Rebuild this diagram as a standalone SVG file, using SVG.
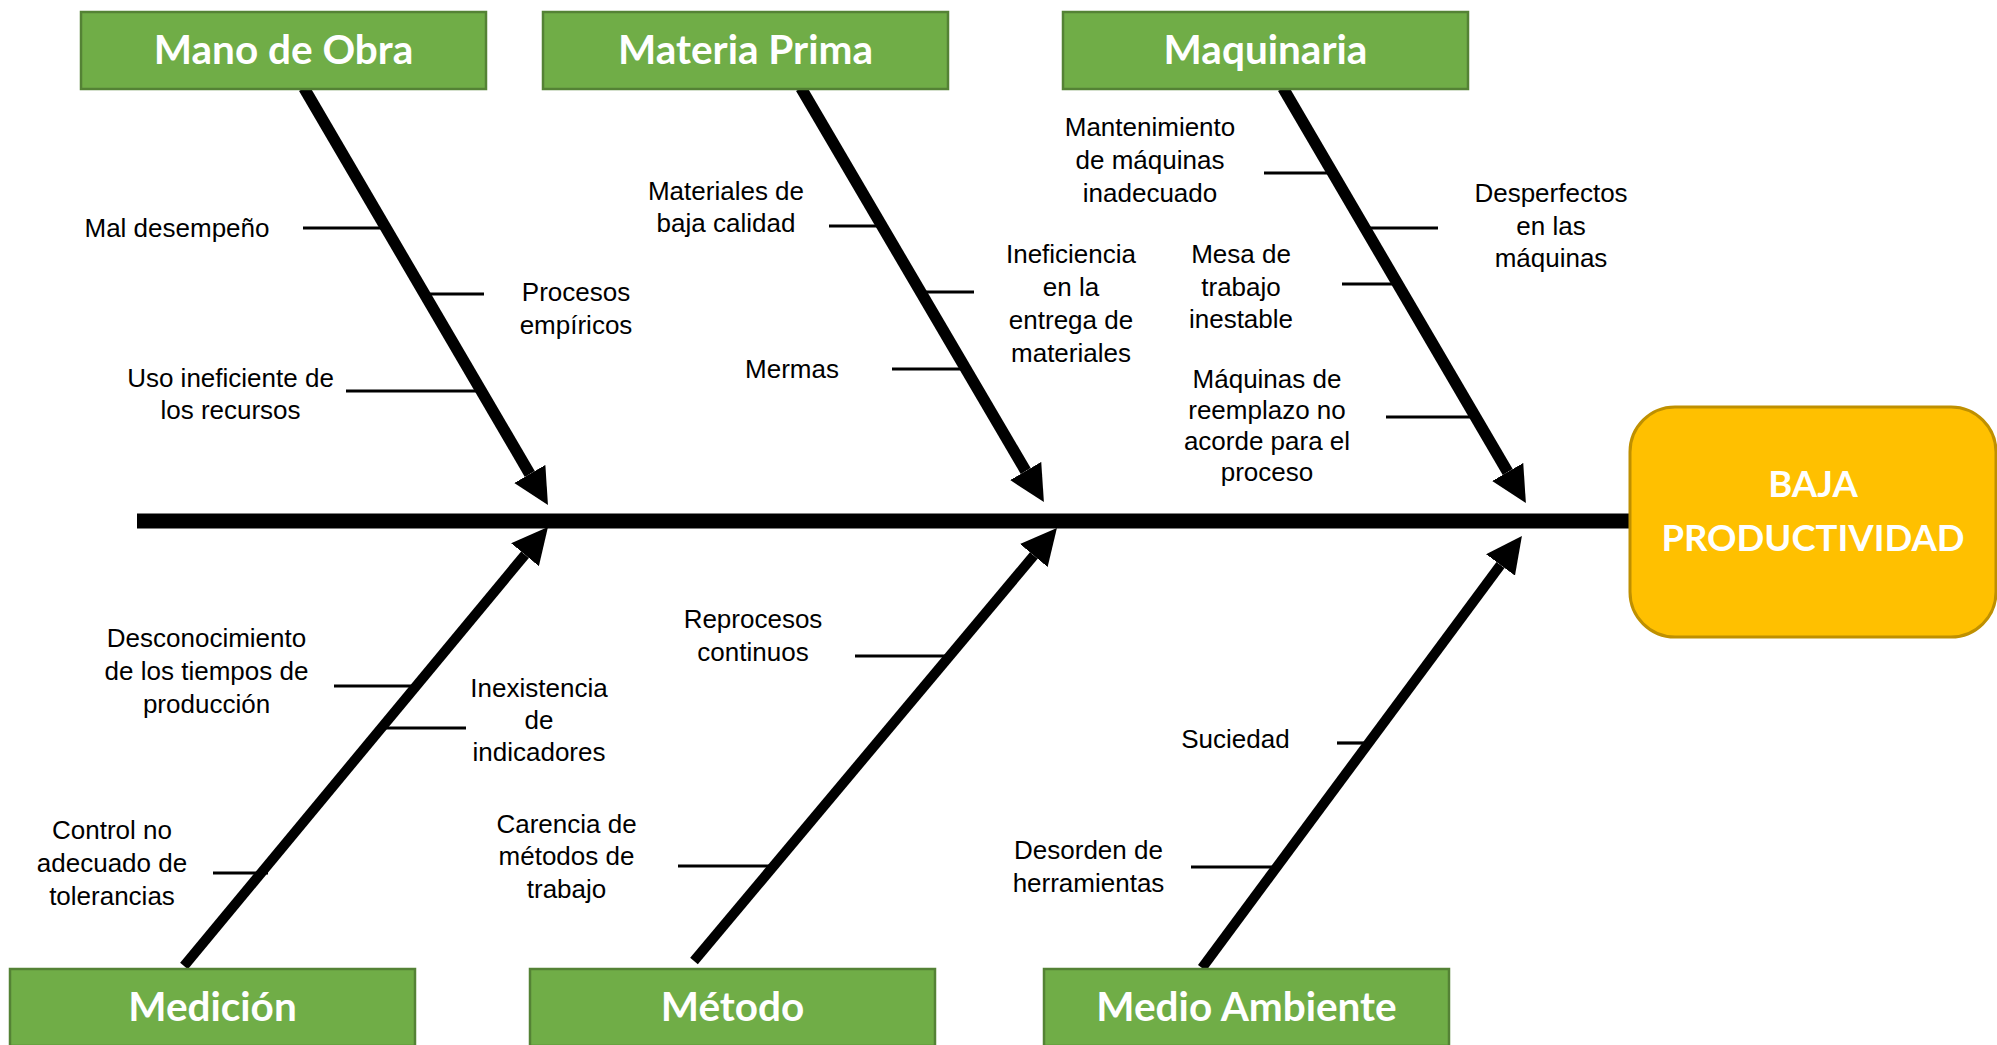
<svg xmlns="http://www.w3.org/2000/svg" width="1997" height="1045" viewBox="0 0 1997 1045">
<style>
.cat{fill:#70AD47;stroke:#548235;stroke-width:2.5}
.cat-t{font-family:Lato,"Open Sans",sans-serif;font-weight:bold;font-size:40.5px;fill:#fff;text-anchor:middle}
.eff-t{font-family:Lato,"Open Sans",sans-serif;font-weight:bold;font-size:36.5px;fill:#fff;text-anchor:middle}
.eff{fill:#FFC000;stroke:#BF9000;stroke-width:3}
.lbl{font-family:"Liberation Sans",Arial,sans-serif;font-size:26px;fill:#000;text-anchor:middle}
.bone{stroke:#000;stroke-width:11.5;fill:none;marker-end:url(#ah)}
.bone-b{stroke:#000;stroke-width:10;fill:none;marker-end:url(#ah)}
.tick{stroke:#000;stroke-width:3.2;fill:none}
.spine{stroke:#000;stroke-width:15}
</style>
<defs>
<marker id="ah" markerUnits="userSpaceOnUse" viewBox="0 0 36 36" markerWidth="36" markerHeight="36" refX="0" refY="18" orient="auto">
<path d="M0,0 L36,18 L0,36 z" fill="#000"/>
</marker>
</defs>
<rect width="1997" height="1045" fill="#fff"/>
<g id="connectors">
<line class="spine" x1="137" y1="521" x2="1632" y2="521"/>
<line class="bone" x1="304" y1="88" x2="529.8" y2="474"/>
<line class="bone" x1="801" y1="88" x2="1025.7" y2="471"/>
<line class="bone" x1="1283" y1="88" x2="1507.7" y2="472"/>
<line class="bone-b" x1="184" y1="966" x2="525" y2="554.7"/>
<line class="bone-b" x1="694" y1="961" x2="1033.8" y2="555.5"/>
<line class="bone-b" x1="1202" y1="968" x2="1500.5" y2="564.9"/>
<line class="tick" x1="303" y1="228" x2="385" y2="228"/>
<line class="tick" x1="424" y1="294" x2="484" y2="294"/>
<line class="tick" x1="346" y1="391" x2="481" y2="391"/>
<line class="tick" x1="829" y1="226" x2="881" y2="226"/>
<line class="tick" x1="920" y1="292" x2="974" y2="292"/>
<line class="tick" x1="892" y1="369" x2="968" y2="369"/>
<line class="tick" x1="1264" y1="173" x2="1332" y2="173"/>
<line class="tick" x1="1364" y1="228" x2="1438" y2="228"/>
<line class="tick" x1="1342" y1="284" x2="1397" y2="284"/>
<line class="tick" x1="1386" y1="417" x2="1475" y2="417"/>
<line class="tick" x1="334" y1="686" x2="416" y2="686"/>
<line class="tick" x1="381" y1="728" x2="466" y2="728"/>
<line class="tick" x1="213" y1="873" x2="268" y2="873"/>
<line class="tick" x1="855" y1="656" x2="949" y2="656"/>
<line class="tick" x1="678" y1="866" x2="772" y2="866"/>
<line class="tick" x1="1337" y1="743" x2="1368" y2="743"/>
<line class="tick" x1="1191" y1="867" x2="1276" y2="867"/>
</g>
<g id="mano-de-obra">
<rect class="cat" x="81" y="12" width="405" height="77"/>
<text class="cat-t" x="283.5" y="64">Mano de Obra</text>
<text class="lbl" x="177" y="237">Mal desempeño</text>
<text class="lbl" x="576" y="301">Procesos<tspan x="576" y="334">empíricos</tspan></text>
<text class="lbl" x="230.5" y="386.5">Uso ineficiente de<tspan x="230.5" y="419">los recursos</tspan></text>
</g>
<g id="materia-prima">
<rect class="cat" x="543" y="12" width="405" height="77"/>
<text class="cat-t" x="745.5" y="64">Materia Prima</text>
<text class="lbl" x="726" y="200">Materiales de<tspan x="726" y="232">baja calidad</tspan></text>
<text class="lbl" x="1071" y="263">Ineficiencia<tspan x="1071" y="296">en la</tspan><tspan x="1071" y="329">entrega de</tspan><tspan x="1071" y="362">materiales</tspan></text>
<text class="lbl" x="792" y="377.5">Mermas</text>
</g>
<g id="maquinaria">
<rect class="cat" x="1063" y="12" width="405" height="77"/>
<text class="cat-t" x="1265.5" y="64">Maquinaria</text>
<text class="lbl" x="1150" y="136">Mantenimiento<tspan x="1150" y="169">de máquinas</tspan><tspan x="1150" y="202">inadecuado</tspan></text>
<text class="lbl" x="1551" y="202">Desperfectos<tspan x="1551" y="234.5">en las</tspan><tspan x="1551" y="266.5">máquinas</tspan></text>
<text class="lbl" x="1241" y="263">Mesa de<tspan x="1241" y="296">trabajo</tspan><tspan x="1241" y="328">inestable</tspan></text>
<text class="lbl" x="1267" y="388">Máquinas de<tspan x="1267" y="419">reemplazo no</tspan><tspan x="1267" y="450">acorde para el</tspan><tspan x="1267" y="481">proceso</tspan></text>
</g>
<g id="medicion">
<rect class="cat" x="10" y="969" width="405" height="77"/>
<text class="cat-t" x="212.5" y="1021">Medición</text>
<text class="lbl" x="206.5" y="647">Desconocimiento<tspan x="206.5" y="680">de los tiempos de</tspan><tspan x="206.5" y="713">producción</tspan></text>
<text class="lbl" x="539" y="697">Inexistencia<tspan x="539" y="729">de</tspan><tspan x="539" y="761">indicadores</tspan></text>
<text class="lbl" x="112" y="839">Control no<tspan x="112" y="872">adecuado de</tspan><tspan x="112" y="905">tolerancias</tspan></text>
</g>
<g id="metodo">
<rect class="cat" x="530" y="969" width="405" height="77"/>
<text class="cat-t" x="732.5" y="1021">Método</text>
<text class="lbl" x="753" y="627.5">Reprocesos<tspan x="753" y="660.5">continuos</tspan></text>
<text class="lbl" x="566.5" y="832.5">Carencia de<tspan x="566.5" y="864.5">métodos de</tspan><tspan x="566.5" y="897.5">trabajo</tspan></text>
</g>
<g id="medio-ambiente">
<rect class="cat" x="1044" y="969" width="405" height="77"/>
<text class="cat-t" x="1246.5" y="1021">Medio Ambiente</text>
<text class="lbl" x="1235.5" y="748">Suciedad</text>
<text class="lbl" x="1088.5" y="859">Desorden de<tspan x="1088.5" y="892">herramientas</tspan></text>
</g>
<g id="baja-productividad">
<rect class="eff" x="1630" y="407" width="366" height="230" rx="45" ry="45"/>
<text class="eff-t" x="1813" y="497">BAJA</text>
<text class="eff-t" x="1813" y="551">PRODUCTIVIDAD</text>
</g>
</svg>
